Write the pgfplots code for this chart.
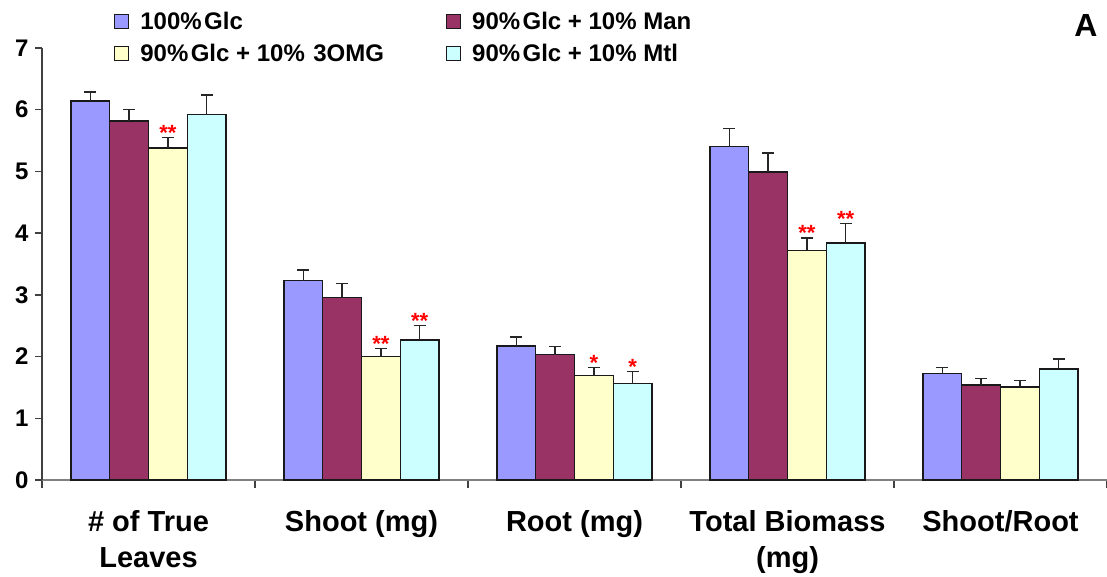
\documentclass[border=0pt]{standalone}
\usepackage{fontspec}
\setmainfont{Liberation Sans}
\usepackage{pgfplots}
\usepackage{pgfplotstable}
\pgfplotsset{compat=1.18}

\definecolor{cGlc}{HTML}{9999FF}
\definecolor{cMan}{HTML}{993366}
\definecolor{cOMG}{HTML}{FFFFCC}
\definecolor{cMtl}{HTML}{CCFFFF}

% mean values (v) and standard errors (e) for the four sugar treatments
\pgfplotstableread{
x v1   e1   v2   e2   v3   e3   v4   e4
0 6.14 0.15 5.82 0.18 5.38 0.17 5.92 0.32
1 3.23 0.17 2.96 0.22 2.00 0.13 2.27 0.23
2 2.17 0.15 2.03 0.13 1.69 0.13 1.56 0.20
3 5.40 0.30 4.99 0.31 3.72 0.20 3.84 0.32
4 1.73 0.09 1.54 0.10 1.51 0.10 1.80 0.16
}\growth

\pgfplotsset{
  sq legend/.style={legend image code/.code={%
      \draw[##1,line width=1.2pt] (0pt,-7pt) rectangle (14pt,7pt);}},
  treat/.style={fill=#1, draw=black!90, line width=1.4pt, sq legend,
    error bars/.cd, y dir=plus, y explicit,
    error bar style={line width=1.4pt, black!85},
    error mark options={rotate=90, line width=1.4pt, black!85, mark size=6pt}},
  stars/.style={forget plot, draw=none, fill=none, bar shift=#1,
    nodes near coords, point meta=explicit symbolic,
    every node near coord/.append style={text=red, anchor=south,
      inner sep=0pt, yshift=-3pt, font=\fontsize{22}{22}\bfseries}},
}

\begin{document}
\begin{tikzpicture}[x=1pt,y=1pt]
\path[use as bounding box] (0,0) rectangle (1107,576);
\begin{axis}[
  at={(42pt,96pt)}, anchor=south west,
  scale only axis, width=1065pt, height=432pt,
  xmin=-0.5, xmax=4.5, ymin=0, ymax=7,
  clip=false,
  axis x line=bottom, axis y line=left,
  x axis line style={-, line width=1.5pt, draw=black!50},
  y axis line style={-, line width=1.5pt, draw=black!75},
  ybar=0pt, bar width=38.75pt,
  ytick={0,...,7},
  tick align=outside, major tick length=7pt,
  ytick style={line width=1.3pt, black!75},
  xtick={0,...,4},
  xticklabels={{\# of True\\Leaves},{Shoot (mg)},{Root (mg)},{Total Biomass\\(mg)},{Shoot/Root}},
  major x tick style={draw=none},
  minor xtick={-0.5,0.5,...,4.5},
  minor tick length=8pt,
  minor x tick style={line width=1.3pt, black!75},
  /pgf/number format/assume math mode=true,
  yticklabel style={font=\fontsize{24}{28}\bfseries, xshift=-3pt},
  xticklabel style={font=\fontsize{29}{36}\bfseries, align=center, yshift=-20pt},
  legend columns=2,
  legend cell align=left,
  legend style={at={(0.0676,1.088)}, anchor=north west, draw=none, fill=none,
    inner sep=0pt, font=\fontsize{24}{28}\bfseries, row sep=9pt,
    /tikz/every odd column/.append style={column sep=9pt},
    /tikz/every even column/.append style={column sep=60pt}},
]
\addplot[treat=cGlc] table[x=x, y=v1, y error=e1] \growth;
\addlegendentry{100\%\hspace{0.1em}Glc}
\addplot[treat=cMan] table[x=x, y=v2, y error=e2] \growth;
\addlegendentry{90\%\hspace{0.1em}Glc + 10\% Man}
\addplot[treat=cOMG] table[x=x, y=v3, y error=e3] \growth;
\addlegendentry{90\%\hspace{0.1em}Glc + 10\%\hspace{0.35em}3OMG}
\addplot[treat=cMtl] table[x=x, y=v4, y error=e4] \growth;
\addlegendentry{90\%\hspace{0.1em}Glc + 10\% Mtl}

% significance marks above the error bars
\addplot[stars=19.375pt] coordinates {(0,5.55) [**] (1,2.13) [**] (2,1.82) [*] (3,3.92) [**]};
\addplot[stars=58.125pt] coordinates {(1,2.50) [**] (2,1.76) [*] (3,4.16) [**]};
\end{axis}
\node[font=\fontsize{32}{32}\bfseries] at (1086,551) {A};
\end{tikzpicture}
\end{document}
